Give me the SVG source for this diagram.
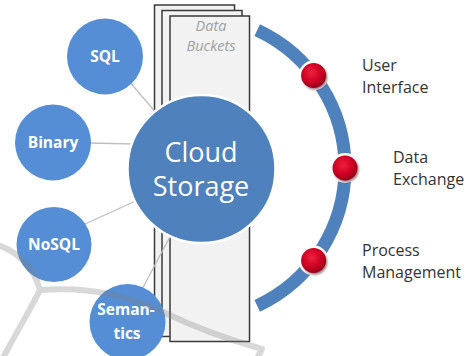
<svg xmlns="http://www.w3.org/2000/svg" width="470" height="356" viewBox="0 0 470 356">
  <defs>
    <radialGradient id="redGrad" cx="0.42" cy="0.38" r="0.65">
      <stop offset="0" stop-color="#f0203f"/>
      <stop offset="0.6" stop-color="#cc0022"/>
      <stop offset="1" stop-color="#8e0018"/>
    </radialGradient>
    <filter id="blur1" x="-50%" y="-50%" width="200%" height="200%">
      <feGaussianBlur stdDeviation="1.2"/>
    </filter>
  </defs>
  <style>
    .page { fill: #f2f2f2; stroke: #3a3a3a; stroke-width: 1.5; }
    .conn { stroke: #bfbfbf; stroke-width: 1.3; fill: none; }
    .sat { fill: #558ed5; }
    .satText { font-family: "Open Sans", "Liberation Sans", sans-serif; font-weight: bold; font-size: 15.5px; fill: #ffffff; text-anchor: middle; }
    .label { font-family: "Open Sans", "Liberation Sans", sans-serif; font-size: 16px; fill: #333333; }
    .bucket { font-family: "Open Sans", "Liberation Sans", sans-serif; font-style: italic; font-size: 14.5px; fill: #a0a0a0; text-anchor: middle; }
    .cloudText { font-family: "Open Sans", "Liberation Sans", sans-serif; font-size: 27px; fill: #ffffff; text-anchor: middle; }
    .mark { fill: none; stroke: #808080; stroke-width: 6; stroke-linecap: round; stroke-linejoin: round; }
  </style>

  <rect width="470" height="356" fill="#ffffff"/>

  <g id="data-buckets">
    <rect class="page" x="154.5" y="5" width="80" height="326"/>
    <rect class="page" x="162" y="10.5" width="80" height="326"/>
    <rect class="page" x="170" y="16" width="79.5" height="325.5"/>
    <text class="bucket" x="211" y="31">Data</text>
    <text class="bucket" x="211" y="51">Buckets</text>
  </g>

  <g id="connectors">
    <line class="conn" x1="128" y1="80" x2="158" y2="115"/>
    <line class="conn" x1="88" y1="143" x2="135" y2="144"/>
    <line class="conn" x1="85" y1="224" x2="140" y2="199"/>
    <line class="conn" x1="140" y1="293" x2="172" y2="233"/>
  </g>

  <g id="arc">
    <path d="M 257.2 30.2 A 152 152 0 0 1 257.2 305.8" fill="none" stroke="#4f81bd" stroke-width="13"/>
  </g>

  <g id="dot-ui">
    <circle cx="313.6" cy="75.5" r="15" fill="#ffffff"/>
    <circle cx="314.8" cy="77.2" r="12.5" fill="#3a0008" opacity="0.5" filter="url(#blur1)"/>
    <circle cx="313.6" cy="75.5" r="12.5" fill="url(#redGrad)"/>
  </g>
  <g id="dot-de">
    <circle cx="345" cy="168" r="15" fill="#ffffff"/>
    <circle cx="346.2" cy="169.7" r="12.5" fill="#3a0008" opacity="0.5" filter="url(#blur1)"/>
    <circle cx="345" cy="168" r="12.5" fill="url(#redGrad)"/>
  </g>
  <g id="dot-pm">
    <circle cx="313.6" cy="260.5" r="15" fill="#ffffff"/>
    <circle cx="314.8" cy="262.2" r="12.5" fill="#3a0008" opacity="0.5" filter="url(#blur1)"/>
    <circle cx="313.6" cy="260.5" r="12.5" fill="url(#redGrad)"/>
  </g>

  <g id="cloud-storage">
    <circle cx="201.5" cy="169" r="74" fill="#4f81bd" stroke="#ffffff" stroke-width="2.5"/>
    <text class="cloudText" x="201" y="161.5">Cloud</text>
    <text class="cloudText" x="201" y="196">Storage</text>
  </g>

  <g id="sql">
    <circle class="sat" cx="105" cy="56.5" r="38"/>
    <text class="satText" x="105" y="62">SQL</text>
  </g>
  <g id="binary">
    <circle class="sat" cx="53" cy="142.5" r="38"/>
    <text class="satText" x="53" y="148">Binary</text>
  </g>
  <g id="nosql">
    <circle class="sat" cx="54" cy="244.5" r="37.5"/>
    <text class="satText" x="54" y="250">NoSQL</text>
  </g>
  <g id="semantics">
    <circle class="sat" cx="127.5" cy="322" r="38"/>
    <text class="satText" x="126" y="315">Seman-</text>
    <text class="satText" x="127" y="339">tics</text>
  </g>

  <g id="label-ui">
    <text class="label" x="362" y="71">User</text>
    <text class="label" x="362" y="93">Interface</text>
  </g>
  <g id="label-de">
    <text class="label" x="393" y="163">Data</text>
    <text class="label" x="393" y="185">Exchange</text>
  </g>
  <g id="label-pm">
    <text class="label" x="362" y="256">Process</text>
    <text class="label" x="362" y="278">Management</text>
  </g>

  <g id="watermark" opacity="0.3">
    <path class="mark" d="M -2 245 C 18 252, 34 268, 40 290 C 30 310, 15 335, 3 358"/>
    <path class="mark" d="M 40 290 C 90 286, 130 296, 163 312 S 230 340, 262 349 L 257 358"/>
  </g>
</svg>
